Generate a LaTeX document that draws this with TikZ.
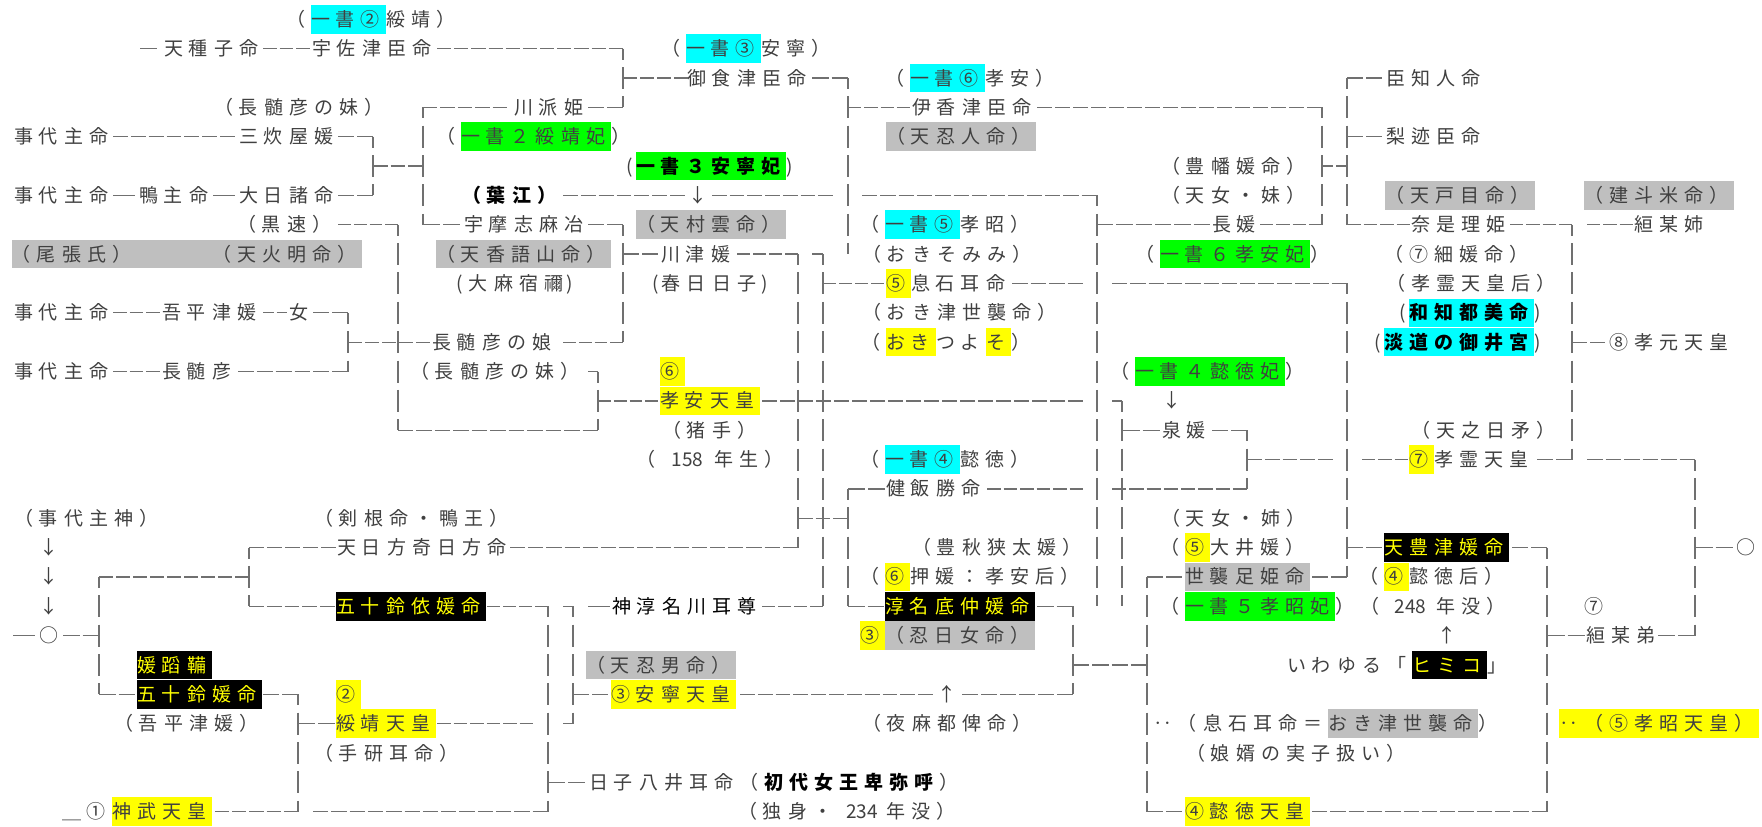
\documentclass[tikz,border=0pt]{standalone}
\usepackage{fontspec}
\newfontfamily\jp[LetterSpace=31.6]{Noto Sans CJK JP}
\newfontfamily\jpn{Noto Sans CJK JP}
\definecolor{tx}{HTML}{404040}
\definecolor{lc}{HTML}{707070}
\definecolor{hcy}{HTML}{00FFFF}
\definecolor{hgr}{HTML}{00FF00}
\definecolor{hye}{HTML}{FFFF00}
\definecolor{hgy}{HTML}{BFBFBF}
\newcommand\sk{\kern6pt}
\newcommand\hb[2]{{\setlength\fboxsep{0pt}\colorbox{#1}{\rule[-7.2pt]{0pt}{28.5pt}#2\sk}}}
\newcommand\kb[1]{{\setlength\fboxsep{0pt}\colorbox{black}{\rule[-7.2pt]{0pt}{28.5pt}\color{hye}#1\sk}}}
\newcommand\rowy[1]{(19.3+(#1-1)*29.35)}
\newcommand\TX[5][]{\node[tt,#1] (#2) at (#3,{\rowy{#4}+7}) {#5};}
\newcommand\CX[4]{\node[tt,anchor=base] (#1) at (#2,{\rowy{#3}+7}) {\jpn #4};}
\newcommand\HX[3]{%
  \pgfmathsetmacro\hn{max(1,round((#3-#2+3)/18))}%
  \pgfmathsetmacro\hon{(#3-#2+3)/\hn-3}%
  \draw[hcon, dash pattern=on \hon pt off 3pt] (#2,{\rowy{#1}}) -- (#3,{\rowy{#1}});}
\newcommand\VX[3]{\draw[vcon] (#1,{\rowy{#2}}) -- (#1,{\rowy{#3}});}
\tikzset{
  tt/.style={anchor=base west, inner sep=0pt, outer sep=0pt, font={\jp\fontsize{19pt}{19pt}\selectfont}, text=tx},
  hcon/.style={draw=lc, line width=1.3pt},
  vcon/.style={draw=lc, line width=1.3pt, dash pattern=on 22pt off 7.35pt, dash phase=11pt}
}
\begin{document}
\begin{tikzpicture}[x=1pt,y=-1pt]
\fill[white] (0,0) rectangle (1762,827);
\useasboundingbox (0,0) rectangle (1762,827);
% ---------------- text ----------------
\TX{a1}{286}{1}{（\sk\hb{hcy}{一書②}綏靖）}
\TX{a2}{164}{2}{天種子命}
\TX{a3}{312}{2}{宇佐津臣命}
\TX{a4}{661}{2}{（\sk\hb{hcy}{一書③}安寧）}
\TX{a5}{687}{3}{御食津臣命}
\TX{a6}{885}{3}{（\sk\hb{hcy}{一書⑥}孝安）}
\TX{a7}{1386}{3}{臣知人命}
\TX{a8}{214}{4}{（長髄彦の妹）}
\TX{a9}{514}{4}{川派姫}
\TX{a10}{912}{4}{伊香津臣命}
\TX{a11}{14}{5}{事代主命}
\TX{a12}{239}{5}{三炊屋媛}
\TX{a13}{436}{5}{（\sk\hb{hgr}{一書２綏靖妃}）}
\TX{a14}{886}{5}{\hb{hgy}{（天忍人命）}}
\TX{a15}{1386}{5}{梨迹臣命}
\TX{a16}{636}{6}{\llap{\jpn(\,}\hb{hgr}{\bfseries\color{black}一書３安寧妃}\rlap{\jpn)}}
\TX{a17}{1161}{6}{（豊幡媛命）}
\TX{a18}{14}{7}{事代主命}
\TX{a19}{139}{7}{鴨主命}
\TX{a20}{239}{7}{大日諸命}
\TX{a21}{462}{7}{{\bfseries\color{black}（葉江）}}
\CX{a22}{698}{7}{↓}
\TX{a23}{1161}{7}{（天女・妹）}
\TX{a24}{1385}{7}{\hb{hgy}{（天戸目命）}}
\TX{a25}{1584}{7}{\hb{hgy}{（建斗米命）}}
\TX{a26}{237}{8}{（黒速）}
\TX{a27}{464}{8}{宇摩志麻冶}
\TX{a28}{636}{8}{\hb{hgy}{（天村雲命）}}
\TX{a29}{860}{8}{（\sk\hb{hcy}{一書⑤}孝昭）}
\TX{a30}{1212}{8}{長媛}
\TX{a31}{1411}{8}{奈是理姫}
\TX{a32}{1634}{8}{絙某姉}
\TX{a33}{12}{9}{\hb{hgy}{（尾張氏）　　　（天火明命）}}
\TX{a34}{436}{9}{\hb{hgy}{（天香語山命）}}
\TX{a35}{661}{9}{川津媛}
\TX{a36}{862}{9}{（おきそみみ）}
\TX{a37}{1135}{9}{（\sk\hb{hgr}{一書６孝安妃}）}
\TX{a38}{1384}{9}{（⑦細媛命）}
\TX{a39}{469}{10}{\llap{\jpn(\,\,}大麻宿禰\rlap{\kern3pt\jpn)}}
\TX{a40}{662}{10}{\llap{\jpn(\,}春日日子\rlap{\kern5pt\jpn)}}
\TX{a41}{886}{10}{\hb{hye}{⑤}息石耳命}
\TX{a42}{1386}{10}{（孝霊天皇后）}
\TX{a43}{14}{11}{事代主命}
\TX{a44}{162}{11}{吾平津媛}
\TX{a45}{289}{11}{女}
\TX{a46}{862}{11}{（おき津世襲命）}
\TX{a47}{1409}{11}{\llap{\jpn(\,}\hb{hcy}{\bfseries\color{black}和知都美命}\rlap{\jpn)}}
\TX{a48}{432}{12}{長髄彦の娘}
\TX{a49}{861}{12}{（\sk\hb{hye}{おき}つよ\sk\hb{hye}{そ}）}
\TX{a50}{1384}{12}{\llap{\jpn(\,}\hb{hcy}{\bfseries\color{black}淡道の御井宮}\rlap{\jpn)}}
\TX{a51}{1609}{12}{⑧孝元天皇}
\TX{a52}{14}{13}{事代主命}
\TX{a53}{162}{13}{長髄彦}
\TX{a54}{410}{13}{（長髄彦の妹）}
\TX{a55}{660}{13}{\hb{hye}{⑥}}
\TX{a56}{1110}{13}{（\sk\hb{hgr}{一書４懿徳妃}）}
\TX{a57}{660}{14}{\hb{hye}{孝安天皇}}
\CX{a58}{1172}{14}{↓}
\TX{a59}{662}{15}{（猪手）}
\TX{a60}{1162}{15}{泉媛}
\TX{a61}{1411}{15}{（天之日矛）}
\TX{a62}{636}{16}{（\sk\makebox[53pt]{\jpn 158}年生）}
\TX{a63}{860}{16}{（\sk\hb{hcy}{一書④}懿徳）}
\TX{a64}{1409}{16}{\hb{hye}{⑦}孝霊天皇}
\TX{a65}{886}{17}{健飯勝命}
\TX{a66}{14}{18}{（事代主神）}
\TX{a67}{314}{18}{（剣根命・鴨王）}
\TX{a68}{1161}{18}{（天女・姉）}
\CX{a69}{49}{19}{↓}
\TX{a70}{337}{19}{天日方奇日方命}
\TX{a71}{912}{19}{（豊秋狭太媛）}
\TX{a72}{1160}{19}{（\sk\hb{hye}{⑤}大井媛）}
\TX{a73}{1384}{19}{\kb{天豊津媛命}}
\CX{a74}{1746}{19}{○}
\CX{a75}{49}{20}{↓}
\TX{a76}{860}{20}{（\sk\hb{hye}{⑥}押媛：孝安后）}
\TX{a77}{1185}{20}{\hb{hgy}{世襲足姫命}}
\TX{a78}{1359}{20}{（\sk\hb{hye}{④}懿徳后）}
\CX{a79}{49}{21}{↓}
\TX{a80}{336}{21}{\kb{五十鈴依媛命}}
\TX{a81}{612}{21}{{\color{black}神淳名川耳尊}}
\TX{a82}{885}{21}{\kb{淳名底仲媛命}}
\TX{a83}{1160}{21}{（\sk\hb{hgr}{一書５孝昭妃}）（\sk\makebox[51pt]{\jpn 248}年没）}
\TX{a84}{1584}{21}{⑦}
\CX{a85}{49}{22}{○}
\TX{a86}{860}{22}{\hb{hye}{③}\hb{hgy}{（忍日女命）}}
\CX{a87}{1447}{22}{↑}
\TX{a88}{1586}{22}{絙某弟}
\TX{a89}{137}{23}{\kb{媛蹈鞴}}
\TX{a90}{586}{23}{\hb{hgy}{（天忍男命）}}
\TX{a91}{1287}{23}{いわゆる「\sk\kb{ヒミコ}」}
\TX{a92}{137}{24}{\kb{五十鈴媛命}}
\TX{a93}{336}{24}{\hb{hye}{②}}
\TX{a94}{611}{24}{\hb{hye}{③安寧天皇}}
\CX{a95}{947}{24}{↑}
\TX{a96}{114}{25}{（吾平津媛）}
\TX{a97}{336}{25}{\hb{hye}{綏靖天皇}}
\TX{a98}{862}{25}{（夜麻都俾命）}
\TX{a99}{1153}{25}{‥（息石耳命＝\sk\hb{hgy}{おき津世襲命}）}
\TX{a100}{1559}{25}{\hb{hye}{‥（⑤孝昭天皇）}}
\TX{a101}{314}{26}{（手研耳命）}
\TX{a102}{1186}{26}{（娘婿の実子扱い）}
\TX{a103}{589}{27}{日子八井耳命（\sk{\bfseries\color{black}初代女王卑弥呼}\sk）}
\TX{a104}{62}{28}{＿①\sk\hb{hye}{神武天皇}}
\TX{a105}{738}{28}{（独身・\sk\makebox[48pt]{\jpn 234}年没）}
\TX{a106}{1185}{28}{\hb{hye}{④懿徳天皇}}
% ---------------- horizontal connectors ----------------
\HX{2}{140}{157}\HX{2}{263}{310}\HX{2}{437}{623}
\HX{3}{623}{688}\HX{3}{812}{848}\HX{3}{1347}{1382}
\HX{4}{423}{507}\HX{4}{588}{623}\HX{4}{848}{910}\HX{4}{1037}{1322}
\HX{5}{113}{235}\HX{5}{338}{373}\HX{5}{1347}{1382}
\HX{6}{373}{423}\HX{6}{1322}{1347}
\HX{7}{113}{135}\HX{7}{213}{235}\HX{7}{338}{373}\HX{7}{563}{685}\HX{7}{712}{833}\HX{7}{862}{1097}
\HX{8}{338}{398}\HX{8}{423}{460}\HX{8}{588}{623}\HX{8}{1097}{1210}\HX{8}{1260}{1322}\HX{8}{1347}{1410}\HX{8}{1510}{1572}\HX{8}{1587}{1633}
\HX{9}{623}{658}\HX{9}{737}{798}\HX{9}{812}{823}
\HX{10}{823}{884}\HX{10}{1012}{1083}\HX{10}{1112}{1347}
\HX{11}{113}{160}\HX{11}{263}{287}\HX{11}{313}{348}
\HX{12}{348}{430}\HX{12}{563}{623}\HX{12}{1572}{1605}
\HX{13}{113}{160}\HX{13}{238}{348}\HX{13}{588}{598}
\HX{14}{598}{658}\HX{14}{762}{1083}\HX{14}{1112}{1122}
\HX{15}{398}{598}\HX{15}{1122}{1160}\HX{15}{1212}{1247}
\HX{16}{1247}{1333}\HX{16}{1362}{1408}\HX{16}{1537}{1572}\HX{16}{1587}{1695}
\HX{17}{848}{885}\HX{17}{987}{1083}\HX{17}{1112}{1247}
\HX{18}{798}{848}
\HX{19}{249}{336}\HX{19}{510}{798}\HX{19}{1347}{1382}\HX{19}{1512}{1547}\HX{19}{1695}{1733}
\HX{20}{99}{249}\HX{20}{1147}{1182}\HX{20}{1312}{1347}
\HX{21}{249}{335}\HX{21}{487}{548}\HX{21}{563}{573}\HX{21}{588}{610}\HX{21}{762}{823}\HX{21}{848}{884}\HX{21}{1037}{1073}
\HX{22}{13}{35}\HX{22}{63}{99}\HX{22}{1547}{1585}\HX{22}{1658}{1695}
\HX{23}{1073}{1147}
\HX{24}{99}{135}\HX{24}{263}{298}\HX{24}{573}{608}\HX{24}{740}{933}\HX{24}{962}{1073}
\HX{25}{298}{335}\HX{25}{437}{533}\HX{25}{563}{573}
\HX{27}{548}{585}
\HX{28}{215}{298}\HX{28}{313}{548}\HX{28}{1147}{1182}\HX{28}{1312}{1547}
% ---------------- vertical connectors ----------------
\VX{373}{5}{7}\VX{423}{4}{8}\VX{398}{8}{15}\VX{348}{11}{13}
\VX{623}{2}{4}\VX{623}{8}{12}\VX{598}{13}{15}
\VX{848}{3}{9}\VX{848}{17}{21}\VX{798}{9}{19}\VX{823}{9}{21}
\VX{548}{21}{28}\VX{573}{21}{25}\VX{249}{19}{21}\VX{99}{20}{24}\VX{298}{24}{28}
\VX{1073}{21}{24}\VX{1147}{20}{28}\VX{1097}{7}{21}\VX{1122}{14}{21}\VX{1247}{15}{17}
\VX{1322}{4}{8}\VX{1347}{3}{8}\VX{1347}{10}{20}
\VX{1547}{19}{28}\VX{1572}{8}{16}\VX{1695}{16}{22}
\end{tikzpicture}
\end{document}
